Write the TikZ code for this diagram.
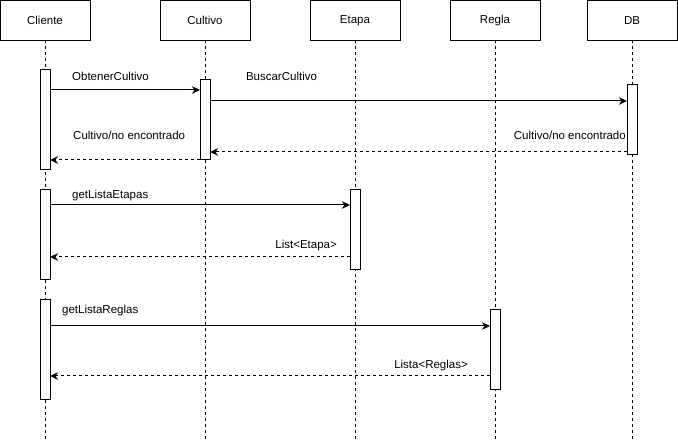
\documentclass[tikz,border=0pt]{standalone}
\usepackage{fontspec}
\setmainfont{Liberation Sans}
\usetikzlibrary{arrows.meta}
\begin{document}
\begin{tikzpicture}[x=1pt,y=-1pt,
  head/.style={draw,line width=1pt,outer sep=0pt,minimum width=90pt,minimum height=40pt,inner sep=0pt,font=\fontsize{11.5}{13}\selectfont},
  act/.style={draw,fill=white,line width=1pt,outer sep=0pt,minimum width=10pt,inner sep=0pt,anchor=north},
  lifeline/.style={line width=1pt,dash pattern=on 3pt off 3pt},
  msg/.style={line width=1pt,-{Stealth[length=8pt,width=7.5pt,inset=2.5pt]}},
  ret/.style={line width=1pt,dash pattern=on 3pt off 3pt,-{Stealth[length=8pt,width=7.5pt,inset=2.5pt]}},
  lbl/.style={inner sep=0pt,font=\fontsize{11.5}{13}\selectfont}]
\useasboundingbox (0,0) rectangle (678,443);
% headers
\node[head] (hCl) at (45,20.5) {Cliente};
\node[head] (hCu) at (205,20.5) {Cultivo};
\node[head] (hEt) at (355,20.5) {Etapa};
\node[head] (hRg) at (495,20.5) {Regla};
\node[head] (hDb) at (632,20.5) {DB};
\coordinate (bot) at (0,441);
% lifelines
\foreach \h in {hCl,hCu,hEt,hRg,hDb}
  \draw[lifeline] (\h.south) -- (\h.south |- bot);
% activations
\node[act,minimum height=100pt] (cl1) at (45,70) {};
\node[act,minimum height=80pt] (cu) at (205,80) {};
\node[act,minimum height=70pt] (db) at (632,85) {};
\node[act,minimum height=90pt] (cl2) at (45,190) {};
\node[act,minimum height=80pt] (et) at (355,190) {};
\node[act,minimum height=100pt] (cl3) at (45,300) {};
\node[act,minimum height=80pt] (rg) at (495,310) {};
% messages
\draw[msg] ([yshift=-20pt]cl1.north east) -- ([yshift=-10pt]cu.north west);
\draw[msg] ([yshift=-21pt]cu.north east) -- ([yshift=-16pt]db.north west);
\draw[ret] ([yshift=-67pt]db.north west) -- ([yshift=-72pt]cu.north east);
\draw[ret] (cu.south west) -- ([yshift=-90pt]cl1.north east);
\draw[msg] ([yshift=-15pt]cl2.north east) -- ([yshift=-15pt]et.north west);
\draw[ret] ([yshift=-67pt]et.north west) -- ([yshift=-67pt]cl2.north east);
\draw[msg] ([yshift=-26pt]cl3.north east) -- ([yshift=-16pt]rg.north west);
\draw[ret] ([yshift=-66pt]rg.north west) -- ([yshift=-76pt]cl3.north east);
% labels
\node[lbl,anchor=west] (l1) at (72,76) {ObtenerCultivo};
\node[lbl] (l2) at (281.5,76) {BuscarCultivo};
\node[lbl,anchor=east] (l3) at (626,135) {Cultivo/no encontrado};
\node[lbl,anchor=west] (l4) at (73,135) {Cultivo/no encontrado};
\node[lbl,anchor=west] (l5) at (72,196) {getListaEtapas};
\node[lbl,anchor=east] (l6) at (337,246) {List<Etapa>};
\node[lbl,anchor=west] (l7) at (62,311) {getListaReglas};
\node[lbl,anchor=east] (l8) at (468,366) {Lista<Reglas>};
\end{tikzpicture}
\end{document}
